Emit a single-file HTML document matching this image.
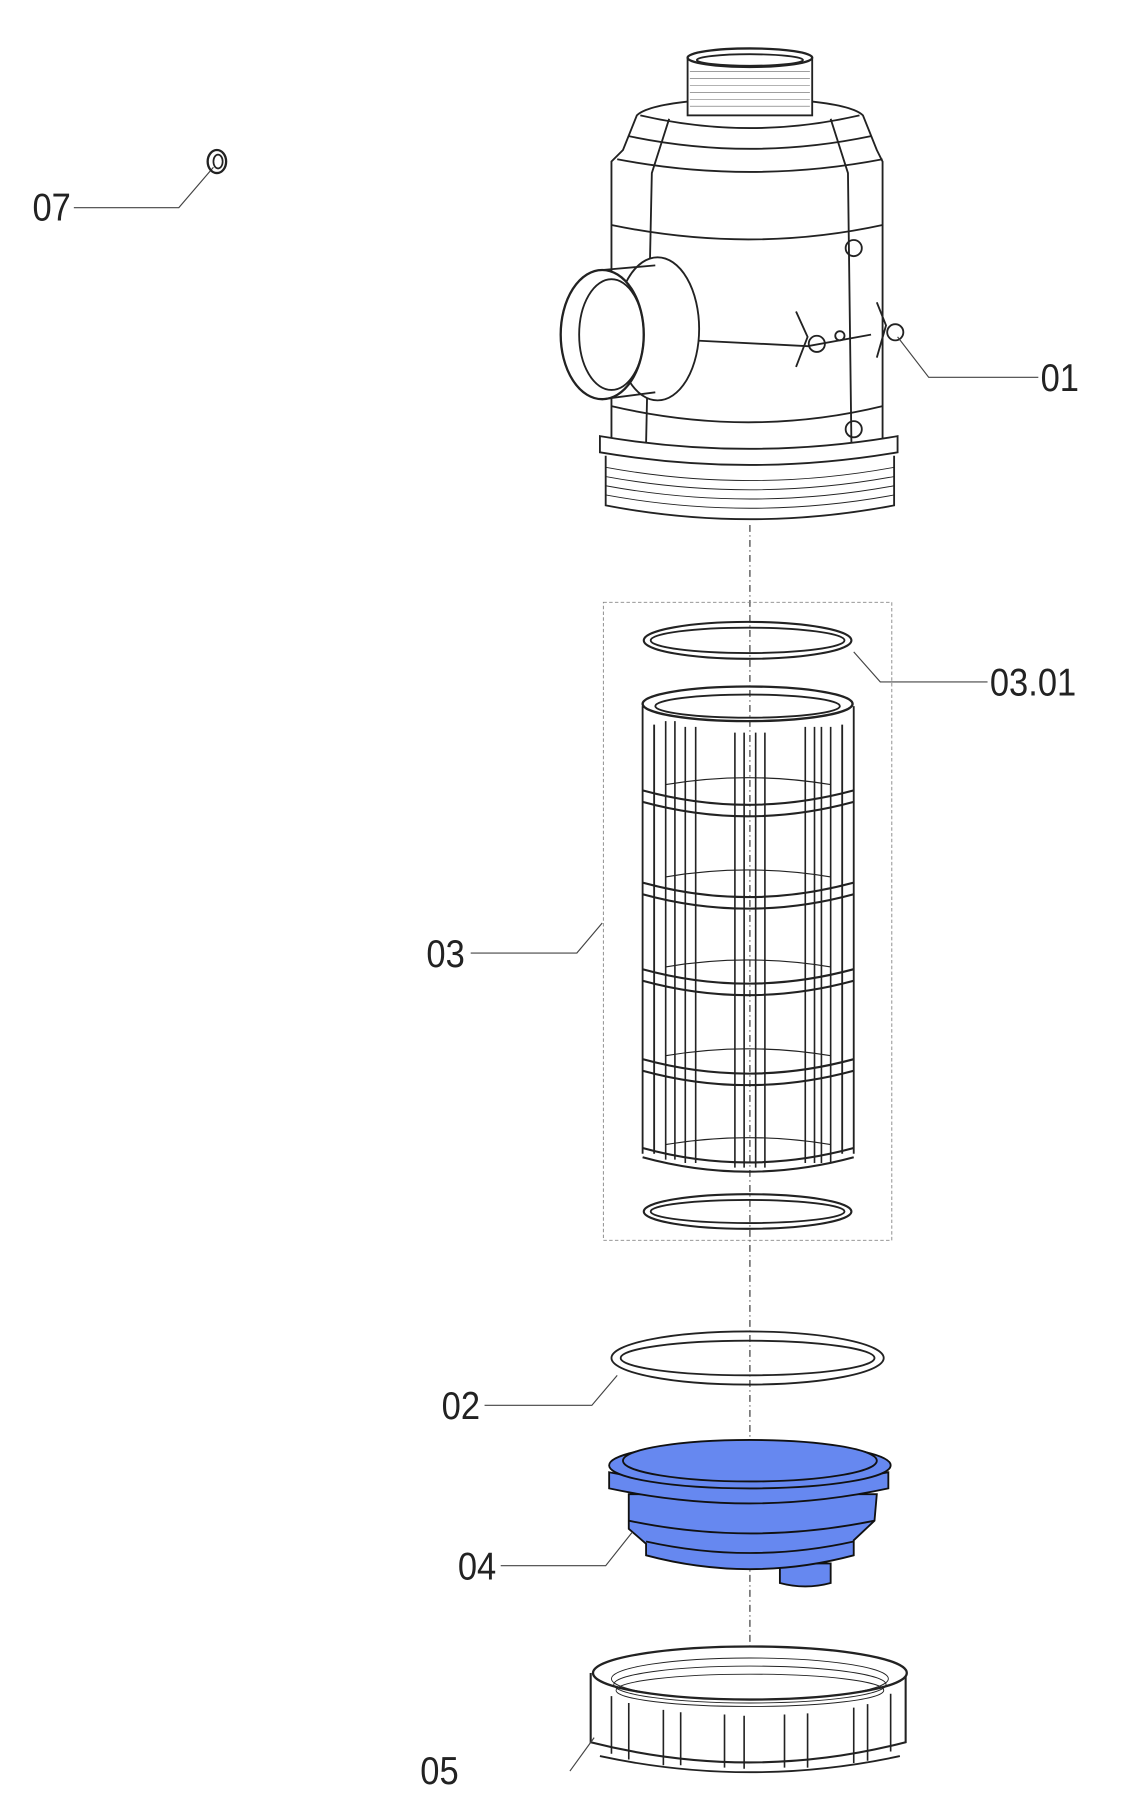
<!DOCTYPE html>
<html><head><meta charset="utf-8"><style>
html,body{margin:0;padding:0;background:#fff;}
svg{display:block;}
text{font-family:"Liberation Sans",sans-serif;font-size:34px;fill:#222;}
</style></head><body>
<svg width="1141" height="1808" viewBox="0 0 989 1567" preserveAspectRatio="none" xmlns="http://www.w3.org/2000/svg">
<g fill="none" stroke="#222" stroke-width="1.6">
<line x1="650" y1="455" x2="650" y2="1432" stroke="#555" stroke-width="1.2" stroke-dasharray="6,3,1,3"/>
<rect x="596" y="50" width="108" height="50" fill="#fff"/>
<g stroke-width="0.5" stroke="#666">
<line x1="598" y1="62" x2="702" y2="62"/><line x1="598" y1="68" x2="702" y2="68"/><line x1="598" y1="74" x2="702" y2="74"/><line x1="598" y1="80" x2="702" y2="80"/><line x1="598" y1="86" x2="702" y2="86"/><line x1="598" y1="92" x2="702" y2="92"/>
</g>
<ellipse cx="650" cy="50" rx="54" ry="8" fill="#fff" stroke-width="2"/>
<ellipse cx="650" cy="52" rx="46" ry="5"/>
<path d="M596 88 Q560 92 552 100 L540 130 L530 140 L530 380 M704 88 Q740 92 748 100 L760 130 L765 140 L765 380"/>
<path d="M555 100 Q650 122 745 100"/><path d="M545 118 Q650 140 755 118"/><path d="M535 138 Q650 160 765 138"/>
<path d="M580 103 L565 150 L560 385 M720 103 L735 150 L738 385"/>
<path d="M530 195 Q650 220 765 195"/><path d="M530 352 Q650 380 765 352"/>
<path d="M600 295 L700 300 L755 290"/>
<circle cx="740" cy="215" r="7"/><circle cx="740" cy="372" r="7"/><circle cx="708" cy="298" r="7"/><circle cx="776" cy="288" r="7"/><circle cx="728" cy="291" r="4"/>
<path d="M690 270 L700 292 L690 318 M760 262 L768 282 L760 310"/>
<ellipse cx="570" cy="285" rx="36" ry="62" fill="#fff"/>
<ellipse cx="522" cy="290" rx="36" ry="56" fill="#fff" stroke-width="2"/>
<ellipse cx="530" cy="290" rx="28" ry="48"/>
<path d="M522 234 L568 230 M522 346 L568 340"/>
<path d="M520 378 Q650 400 778 378 L778 392 Q650 414 520 392 Z" fill="#fff"/>
<path d="M525 395 L525 438 Q650 462 775 438 L775 395"/>
<g stroke-width="0.8"><path d="M525 405 Q650 428 775 405"/><path d="M525 413 Q650 436 775 413"/><path d="M525 421 Q650 444 775 421"/><path d="M525 429 Q650 452 775 429"/></g>
<rect x="523" y="522" width="250" height="553" stroke="#888" stroke-width="0.8" stroke-dasharray="3,2"/>
<ellipse cx="648" cy="555" rx="90" ry="16" stroke-width="1.8"/><ellipse cx="648" cy="555" rx="84" ry="11"/>
<ellipse cx="648" cy="610" rx="91" ry="15" stroke-width="2"/><ellipse cx="648" cy="612" rx="80" ry="10"/>
<path d="M557 612 L557 1000 M740 612 L740 1000 M567 628 L567 1000 M730 628 L730 1000"/>
<g stroke-width="1.4">
<path d="M577 625 L577 1005 M585 625 L585 1005 M594 630 L594 1008 M603 630 L603 1008 M637 635 L637 1012 M645 635 L645 1012 M655 635 L655 1012 M663 635 L663 1012 M698 630 L698 1008 M706 630 L706 1008 M712 630 L712 1008 M720 630 L720 1008"/>
</g>
<g stroke-width="1.8">
<path d="M557 685 Q648 710 740 685 M557 695 Q648 720 740 695"/>
<path d="M557 765 Q648 790 740 765 M557 775 Q648 800 740 775"/>
<path d="M557 840 Q648 865 740 840 M557 850 Q648 875 740 850"/>
<path d="M557 918 Q648 943 740 918 M557 928 Q648 953 740 928"/>
<path d="M557 995 Q648 1020 740 995 M557 1003 Q648 1028 740 1003"/>
</g>
<g stroke-width="1"><path d="M577 680 Q648 668 720 680"/><path d="M577 760 Q648 748 720 760"/><path d="M577 838 Q648 826 720 838"/><path d="M577 915 Q648 903 720 915"/><path d="M577 992 Q648 980 720 992"/></g>
<ellipse cx="648" cy="1050" rx="90" ry="15" stroke-width="1.8"/><ellipse cx="648" cy="1050" rx="84" ry="10"/>
<ellipse cx="648" cy="1177" rx="118" ry="23" stroke-width="1.6"/><ellipse cx="648" cy="1177" rx="110" ry="15"/>
<g fill="#6688f0" stroke="#111" stroke-width="1.6">
<path d="M676 1355 L676 1372 Q698 1378 720 1372 L720 1355 Z"/>
<path d="M545 1295 L545 1325 L560 1338 L560 1348 Q650 1372 740 1348 L740 1335 L758 1318 L760 1295 Z"/>
<path d="M528 1276 Q650 1300 770 1276 L770 1290 Q650 1316 528 1290 Z"/>
<ellipse cx="650" cy="1270" rx="122" ry="20"/>
<ellipse cx="650" cy="1266" rx="110" ry="18"/>
<path d="M545 1318 Q650 1340 758 1318 M560 1336 Q650 1356 740 1336" fill="none"/>
</g>
<path d="M512 1450 L512 1510 Q650 1545 785 1510 L785 1450" fill="#fff" stroke-width="1.8"/>
<ellipse cx="650" cy="1450" rx="136" ry="23" fill="#fff" stroke-width="2"/>
<ellipse cx="650" cy="1455" rx="120" ry="18" stroke-width="0.8"/><ellipse cx="650" cy="1460" rx="118" ry="16" stroke-width="0.8"/><ellipse cx="650" cy="1465" rx="116" ry="14" stroke-width="0.8"/>
<path d="M520 1522 Q650 1550 780 1522"/>
<g stroke-width="1.4"><path d="M530 1470 L530 1520 M545 1476 L545 1525 M575 1482 L575 1530 M590 1484 L590 1530 M628 1486 L628 1532 M645 1487 L645 1533 M680 1486 L680 1532 M700 1485 L700 1532 M740 1480 L740 1528 M752 1477 L752 1526 M772 1468 L772 1518"/></g>
</g>
<g fill="none" stroke="#444" stroke-width="1">
<polyline points="64,180 155,180 185,145"/>
<polyline points="900,327 805,327 778,292"/>
<polyline points="856,591 763,591 740,565"/>
<polyline points="408,826 500,826 522,800"/>
<polyline points="420,1218 513,1218 535,1192"/>
<polyline points="434,1357 525,1357 548,1328"/>
<line x1="494" y1="1535" x2="515" y2="1506"/>
</g>
<ellipse cx="188" cy="140" rx="8" ry="10" fill="none" stroke="#222" stroke-width="2"/>
<ellipse cx="189" cy="140" rx="4" ry="6" fill="none" stroke="#222" stroke-width="1.5"/>
<g transform="scale(0.88,1)">
<text x="32" y="191">07</text>
<text x="1025" y="339">01</text>
<text x="975" y="603">03.01</text>
<text x="420" y="838">03</text>
<text x="435" y="1230">02</text>
<text x="451" y="1369">04</text>
<text x="414" y="1546">05</text>
</g>
</svg>
</body></html>
